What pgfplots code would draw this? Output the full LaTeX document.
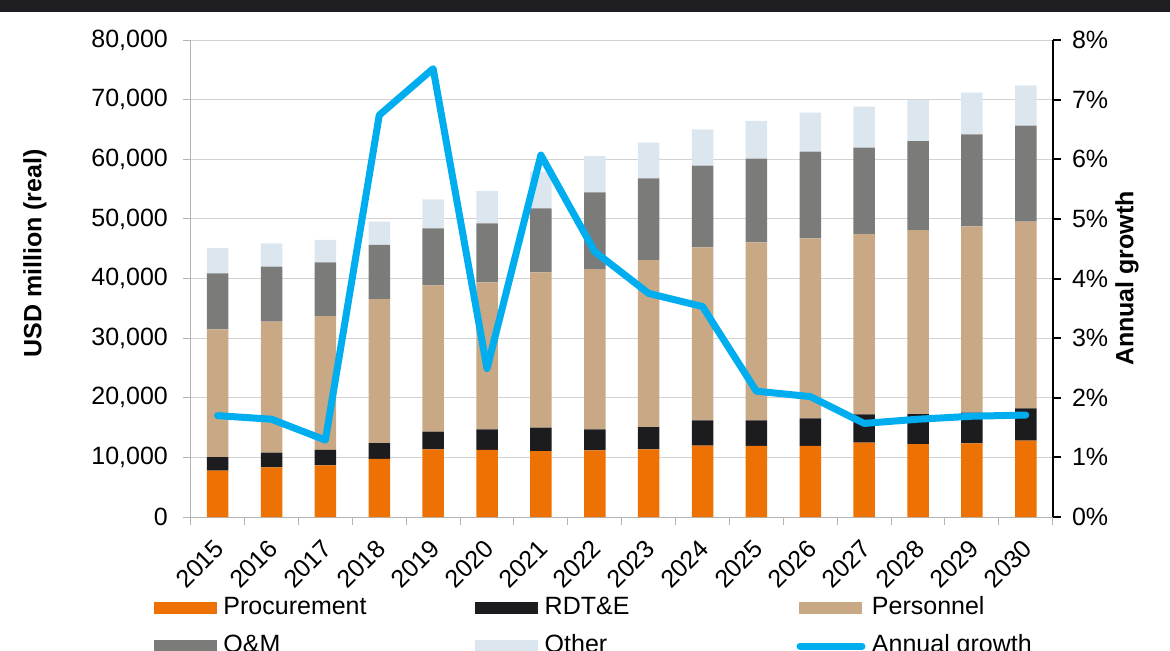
\documentclass[border=0pt]{standalone}
\usepackage{fontspec}
\setmainfont{Liberation Sans}
\usepackage{pgfplots}
\usepackage{pgfplotstable}
\pgfplotsset{compat=1.18}

\definecolor{proc}{HTML}{EE7203}
\definecolor{rdte}{HTML}{1C1C1F}
\definecolor{pers}{HTML}{C8A885}
\definecolor{om}{HTML}{7B7B79}
\definecolor{other}{HTML}{DCE6EF}
\definecolor{growth}{HTML}{00AEEF}
\definecolor{gridgray}{HTML}{D2D2D2}
\definecolor{axisgray}{HTML}{B4B4B4}
\definecolor{band}{HTML}{1E1E22}

% stacked increments, USD million (real); growth in %
\pgfplotstableread{
x year proc rdte pers om other growth
0  2015 7770  2290 21420 9390  4240 1.70
1  2016 8330  2460 21970 9220  3920 1.64
2  2017 8660  2580 22470 9000  3750 1.29
3  2018 9730  2680 24150 9060  3910 6.74
4  2019 11350 2960 24550 9550  4870 7.52
5  2020 11240 3460 24660 9890  5430 2.49
6  2021 11070 3910 26060 10730 6140 6.07
7  2022 11180 3520 26890 12860 6100 4.45
8  2023 11350 3740 28010 13700 6000 3.75
9  2024 11960 4250 29020 13690 6100 3.53
10 2025 11910 4300 29860 14020 6330 2.11
11 2026 11910 4640 30190 14530 6540 2.02
12 2027 12470 4750 30240 14480 6880 1.57
13 2028 12240 5030 30860 14930 6880 1.64
14 2029 12360 5140 31250 15430 6990 1.69
15 2030 12800 5430 31300 16100 6770 1.71
}\budget

\newcommand{\lbl}{\fontsize{10}{12}\selectfont}
\newcommand{\entry}[1]{\makebox[103.3pt][l]{\hspace{2.6pt}#1}}
% legend images are drawn relative to the row's centre line
\newcommand{\swatch}[1]{\fill[#1] (0pt,-3.2pt) rectangle (24.8pt,1.4pt);}

\pgfplotsset{
  common/.style={
    at={(0,0)}, anchor=south west,
    scale only axis, width=344.8pt, height=190.8pt,
    xmin=-0.5, xmax=15.5,
    tick align=outside,
    tick label style={font=\lbl},
    label style={font=\lbl\bfseries},
    /pgf/number format/assume math mode=true,
  },
}

\begin{document}
\begin{tikzpicture}
\useasboundingbox (-76.28pt,-53.2pt) rectangle (391.72pt,206.8pt);
\clip (-76.28pt,-53.2pt) rectangle (391.72pt,206.8pt);

\begin{axis}[
  common,
  ybar stacked, bar width=8.6pt,
  ymin=0, ymax=80000, ytick={0,10000,...,80000},
  scaled y ticks=false,
  /pgf/number format/1000 sep={,},
  axis x line*=bottom, axis y line*=left,
  axis line style={axisgray},
  major tick length=3.2pt,
  tick style={axisgray, thin},
  ymajorgrids, grid style={gridgray, thin},
  xtick={-0.5,0.5,...,15.5},
  x tick label as interval,
  xticklabels={2015,2016,2017,2018,2019,2020,2021,2022,2023,2024,2025,2026,2027,2028,2029,2030},
  xticklabel style={rotate=45, anchor=east, xshift=-1.4pt, yshift=-6pt},
  yticklabel style={xshift=-2.4pt},
  ylabel={USD million (real)},
  ylabel style={at={(axis description cs:-0.1806,0.5524)}, anchor=center},
]
\addplot[fill=proc, draw=none] table[x=x, y=proc] {\budget};
\addplot[fill=rdte, draw=none] table[x=x, y=rdte] {\budget};
\addplot[fill=pers, draw=none] table[x=x, y=pers] {\budget};
\addplot[fill=om, draw=none] table[x=x, y=om] {\budget};
\addplot[fill=other, draw=none] table[x=x, y=other] {\budget};
\end{axis}

\begin{axis}[
  common,
  ymin=0, ymax=8, ytick={0,...,8},
  yticklabel={\pgfmathprintnumber{\tick}\%},
  yticklabel style={xshift=1pt},
  axis x line=none, axis y line*=right,
  axis line style={black, thick},
  major tick length=3.2pt,
  tick style={black, thick},
  ylabel={Annual growth},
  ylabel style={at={(axis description cs:1.0862,0.5)}, anchor=center},
  legend columns=3,
  legend cell align=left,
  legend style={draw=none, fill=none, inner sep=0pt, outer sep=0pt,
    at={(axis description cs:-0.04258,-0.1677)}, anchor=north west,
    column sep=0pt, row sep=8pt,
    nodes={inner sep=0pt, font=\lbl, text height=7.2pt, text depth=0pt}},
]
\addlegendimage{legend image code/.code={\swatch{proc}}}
\addlegendentry{\entry{Procurement}}
\addlegendimage{legend image code/.code={\swatch{rdte}}}
\addlegendentry{\entry{RDT\&E}}
\addlegendimage{legend image code/.code={\swatch{pers}}}
\addlegendentry{\entry{Personnel}}
\addlegendimage{legend image code/.code={\swatch{om}}}
\addlegendentry{\entry{O\&M}}
\addlegendimage{legend image code/.code={\swatch{other}}}
\addlegendentry{\entry{Other}}
\addplot[growth, line width=2.8pt, line cap=round, line join=round,
  legend image code/.code={\draw[growth, line width=2.8pt, line cap=round] (0pt,-0.9pt) -- (24.8pt,-0.9pt);}]
  table[x=x, y=growth] {\budget};
\addlegendentry{\entry{Annual growth}}
\end{axis}

\fill[band] (-76.28pt,202pt) rectangle (391.72pt,206.8pt);
\end{tikzpicture}
\end{document}
